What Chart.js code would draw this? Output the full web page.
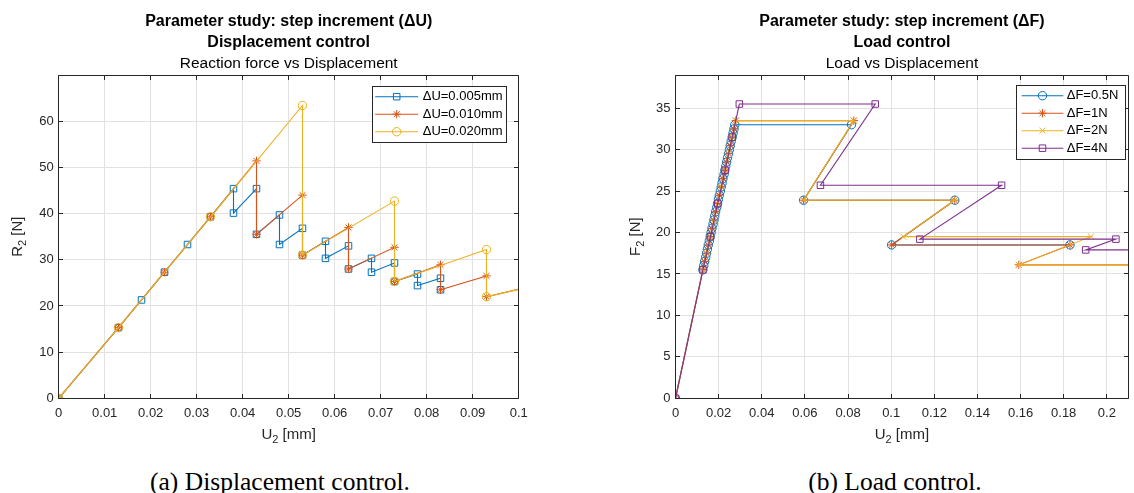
<!DOCTYPE html>
<html><head><meta charset="utf-8">
<script src="https://cdn.jsdelivr.net/npm/chart.js@4/dist/chart.umd.min.js"></script>
<style>
html,body{margin:0;padding:0;background:#fff;width:1134px;height:493px;overflow:hidden;}
.wrap{position:absolute;top:0;width:567px;height:460px;}
.cap{position:absolute;top:466px;font-family:"Liberation Serif","Times New Roman",serif;font-size:25.5px;line-height:32px;color:#000;text-align:center;white-space:nowrap;}
</style></head><body>
<div class="wrap" style="left:0"><canvas id="c1" width="567" height="460"></canvas></div>
<div class="wrap" style="left:567px"><canvas id="c2" width="567" height="460"></canvas></div>
<div class="cap" style="left:80px;width:400px">(a) Displacement control.</div>
<div class="cap" style="left:695px;width:400px">(b) Load control.</div>
<script>
// ---------- Left chart data: displacement control ----------
const uTicksL = [0,0.01,0.02,0.03,0.04,0.05,0.06,0.07,0.08,0.09,0.1];
const uTickLabelsL = ['0','0.01','0.02','0.03','0.04','0.05','0.06','0.07','0.08','0.09','0.1'];
const rTicksL = [0,10,20,30,40,50,60];
const rTickLabelsL = ['0','10','20','30','40','50','60'];
const seriesLabelsL = ['\u0394U=0.005mm','\u0394U=0.010mm','\u0394U=0.020mm'];

const u005 = [0,0.013,0.018,0.023,0.028,0.033,0.038,0.038,0.043,0.043,0.048,0.048,0.053,0.053,0.058,0.058,0.063,0.063,0.068,0.068,0.073,0.073,0.078,0.078,0.083,0.083];
const r005 = [0,15.3,21.3,27.3,33.3,39.3,45.4,40.1,45.4,35.5,39.7,33.3,36.8,31.0,34.0,30.3,33.0,28.0,30.3,27.3,29.3,25.3,26.9,24.4,26.0,23.5];
const u010 = [0,0.013,0.023,0.033,0.043,0.043,0.053,0.053,0.063,0.063,0.073,0.073,0.083,0.083,0.093,0.093,0.103];
const r010 = [0,15.3,27.3,39.3,51.4,35.5,44.0,31.0,37.0,28.0,32.7,25.3,28.9,23.5,26.5,22.0,24.3];
const u020 = [0,0.013,0.033,0.053,0.053,0.073,0.073,0.093,0.093,0.113];
const r020 = [0,15.3,39.3,63.4,31.0,42.7,25.3,32.2,22.0,26.5];

// ---------- Right chart data: load control ----------
const uTicksR = [0,0.02,0.04,0.06,0.08,0.1,0.12,0.14,0.16,0.18,0.2];
const uTickLabelsR = ['0','0.02','0.04','0.06','0.08','0.1','0.12','0.14','0.16','0.18','0.2'];
const fTicksR = [0,5,10,15,20,25,30,35];
const fTickLabelsR = ['0','5','10','15','20','25','30','35'];
const seriesLabelsR = ['\u0394F=0.5N','\u0394F=1N','\u0394F=2N','\u0394F=4N'];

const uF05 = [0,0.0127,0.0131,0.0135,0.0140,0.0144,0.0148,0.0152,0.0157,0.0161,0.0165,0.0169,0.0174,0.0178,0.0182,0.0186,0.0191,0.0195,0.0199,0.0203,0.0208,0.0212,0.0216,0.0220,0.0225,0.0229,0.0233,0.0237,0.0241,0.0246,0.0250,0.0254,0.0258,0.0263,0.0267,0.0271,0.0275,0.0816,0.0594,0.1295,0.1002,0.1829];
const fF05 = [0,15.5,16.0,16.5,17.0,17.5,18.0,18.5,19.0,19.5,20.0,20.5,21.0,21.5,22.0,22.5,23.0,23.5,24.0,24.5,25.0,25.5,26.0,26.5,27.0,27.5,28.0,28.5,29.0,29.5,30.0,30.5,31.0,31.5,32.0,32.5,33.0,33.0,23.9,23.9,18.5,18.5];
const uF1 = [0,0.0127,0.0135,0.0144,0.0152,0.0161,0.0169,0.0178,0.0186,0.0195,0.0203,0.0212,0.0220,0.0229,0.0237,0.0246,0.0254,0.0263,0.0271,0.0280,0.0827,0.0594,0.1295,0.1002,0.1829,0.1592,0.26];
const fF1 = [0,15.5,16.5,17.5,18.5,19.5,20.5,21.5,22.5,23.5,24.5,25.5,26.5,27.5,28.5,29.5,30.5,31.5,32.5,33.5,33.5,23.9,23.9,18.5,18.5,16.1,16.1];
const uF2 = [0,0.0127,0.0144,0.0161,0.0178,0.0195,0.0212,0.0229,0.0246,0.0263,0.0280,0.0827,0.0594,0.1295,0.1056,0.1926,0.1592,0.26];
const fF2 = [0,15.5,17.5,19.5,21.5,23.5,25.5,27.5,29.5,31.5,33.5,33.5,23.9,23.9,19.5,19.5,16.1,16.1];
const uF4 = [0,0.0127,0.0162,0.0196,0.0230,0.0263,0.0296,0.0926,0.0672,0.1512,0.1133,0.2042,0.1902,0.26];
const fF4 = [0,15.5,19.5,23.5,27.5,31.5,35.5,35.5,25.7,25.7,19.2,19.2,17.9,17.9];

// ---------- styling ----------
const FONT = '"Liberation Sans", Arial, Helvetica, sans-serif';
const AX = '#262626';
const GRID = '#e2e2e2';
const C_BLUE = '#0072BD', C_ORANGE = '#D95319', C_YELLOW = '#EDB120', C_PURPLE = '#7E2F8E';

const pts = (xs, ys) => xs.map((x, i) => ({x: x, y: ys[i]}));
const ds = (label, xs, ys, color, style, radius, idx) => ({
  label, data: pts(xs, ys), showLine: true, borderColor: color, borderWidth: 1.1,
  pointStyle: style, pointRadius: radius, pointBorderColor: color, pointBorderWidth: 1,
  pointBackgroundColor: 'rgba(0,0,0,0)', fill: false, tension: 0, order: -idx
});

function alignPx(p) { return Math.round(p - 0.5) + 0.5; }

const matPlugin = {
  id: 'mat',
  afterDatasetsDraw(chart, args, o) {
    const {ctx, chartArea: a, scales} = chart;
    ctx.save();
    ctx.strokeStyle = AX; ctx.lineWidth = 1;
    const L = alignPx(a.left), R = alignPx(a.right), T = alignPx(a.top), B = alignPx(a.bottom);
    const tl = 4.5;
    ctx.beginPath();
    scales.x.ticks.forEach(t => {
      const px = alignPx(scales.x.getPixelForValue(t.value));
      ctx.moveTo(px, B); ctx.lineTo(px, B - tl);
      ctx.moveTo(px, T); ctx.lineTo(px, T + tl);
    });
    scales.y.ticks.forEach(t => {
      const py = alignPx(scales.y.getPixelForValue(t.value));
      ctx.moveTo(L, py); ctx.lineTo(L + tl, py);
      ctx.moveTo(R, py); ctx.lineTo(R - tl, py);
    });
    ctx.rect(L, T, R - L, B - T);
    ctx.stroke();
    ctx.restore();
  },
  afterDraw(chart, args, o) {
    const {ctx, chartArea: a} = chart;
    const cx = (a.left + a.right) / 2;
    ctx.save();
    ctx.fillStyle = '#000';
    ctx.textAlign = 'center'; ctx.textBaseline = 'middle';
    ctx.font = 'bold 16px ' + FONT;
    ctx.fillText(o.title1, cx, 21.7);
    ctx.fillText(o.title2, cx, 42.3);
    ctx.font = '15.5px ' + FONT;
    ctx.fillText(o.title3, cx, 63.3);

    // axis label with subscript
    const drawSub = (main, sub, rest, x, y) => {
      ctx.textAlign = 'left'; ctx.textBaseline = 'middle';
      ctx.font = '15px ' + FONT; const w1 = ctx.measureText(main).width;
      ctx.font = '11px ' + FONT; const w2 = ctx.measureText(sub).width;
      ctx.font = '15px ' + FONT; const w3 = ctx.measureText(rest).width;
      let sx = x - (w1 + w2 + w3) / 2;
      ctx.fillStyle = AX;
      ctx.fillText(main, sx, y); sx += w1;
      ctx.font = '11px ' + FONT; ctx.fillText(sub, sx, y + 5); sx += w2;
      ctx.font = '15px ' + FONT; ctx.fillText(rest, sx, y);
    };
    drawSub(o.xl[0], o.xl[1], o.xl[2], cx, 435);
    ctx.save();
    ctx.translate(o.ylX, (a.top + a.bottom) / 2);
    ctx.rotate(-Math.PI / 2);
    drawSub(o.yl[0], o.yl[1], o.yl[2], 0, 0);
    ctx.restore();

    // legend
    const lg = o.legend;
    ctx.fillStyle = '#fff';
    ctx.fillRect(lg.x, lg.y, lg.w, lg.h);
    ctx.strokeStyle = AX; ctx.lineWidth = 1;
    ctx.strokeRect(alignPx(lg.x), alignPx(lg.y), Math.round(lg.w), Math.round(lg.h));
    chart.data.datasets.forEach((d, i) => {
      const y = lg.y + lg.r0 + i * lg.dy;
      ctx.strokeStyle = d.borderColor; ctx.lineWidth = 1.1;
      ctx.beginPath(); ctx.moveTo(lg.x + lg.l0, y); ctx.lineTo(lg.x + lg.l1, y); ctx.stroke();
      ctx.lineWidth = 1;
      ctx.fillStyle = 'rgba(0,0,0,0)';
      ctx.strokeStyle = d.pointBorderColor;
      Chart.helpers.drawPoint(ctx, {pointStyle: d.pointStyle, rotation: 0, radius: d.pointRadius, borderWidth: 1}, lg.x + lg.mk, y);
      ctx.fillStyle = '#000';
      ctx.font = '13px ' + FONT; ctx.textAlign = 'left'; ctx.textBaseline = 'middle';
      ctx.fillText(d.label, lg.x + lg.tx, y);
    });
    ctx.restore();
  }
};

function makeChart(id, datasets, cfg) {
  return new Chart(document.getElementById(id), {
    type: 'scatter',
    data: {datasets},
    plugins: [matPlugin],
    options: {
      responsive: false, animation: false, events: [],
      devicePixelRatio: 1,
      layout: {padding: {top: 75, left: 0, right: cfg.padRight, bottom: 0}},
      plugins: {legend: {display: false}, tooltip: {enabled: false}, title: {display: false}, mat: cfg.mat},
      scales: {
        x: {
          type: 'linear', min: cfg.xmin, max: cfg.xmax,
          grid: {color: GRID, lineWidth: 1, drawTicks: false},
          border: {display: false},
          ticks: {color: AX, font: {size: 13, family: FONT}, padding: 7, maxRotation: 0, autoSkip: false,
                  callback: (v, i) => cfg.xLabels[i]},
          afterBuildTicks: s => { s.ticks = cfg.xTicks.map(v => ({value: v})); },
          afterFit: s => { s.height = 460 - 398.3; }
        },
        y: {
          type: 'linear', min: cfg.ymin, max: cfg.ymax,
          grid: {color: GRID, lineWidth: 1, drawTicks: false},
          border: {display: false},
          ticks: {color: AX, font: {size: 13, family: FONT}, padding: 5, autoSkip: false,
                  callback: (v, i) => cfg.yLabels[i]},
          afterBuildTicks: s => { s.ticks = cfg.yTicks.map(v => ({value: v})); },
          afterFit: s => { s.width = cfg.yw; }
        }
      }
    }
  });
}

makeChart('c1', [
  ds(seriesLabelsL[0], u005, r005, C_BLUE, 'rect', 4.6, 0),
  ds(seriesLabelsL[1], u010, r010, C_ORANGE, 'star', 4.2, 1),
  ds(seriesLabelsL[2], u020, r020, C_YELLOW, 'circle', 4.2, 2)
], {
  xmin: 0, xmax: 0.1, ymin: 0, ymax: 70, xTicks: uTicksL, xLabels: uTickLabelsL, yTicks: rTicksL, yLabels: rTickLabelsL,
  yw: 58.7, padRight: 567 - 518.7,
  mat: {title1: 'Parameter study: step increment (\u0394U)', title2: 'Displacement control', title3: 'Reaction force vs Displacement',
        xl: ['U', '2', ' [mm]'], yl: ['R', '2', ' [N]'], ylX: 18,
        legend: {x: 372.7, y: 86, w: 134, h: 56.3, r0: 10.7, dy: 17.5, l0: 2.5, l1: 45.5, mk: 24, tx: 50}}
});

makeChart('c2', [
  ds(seriesLabelsR[0], uF05, fF05, C_BLUE, 'circle', 4.2, 0),
  ds(seriesLabelsR[1], uF1, fF1, C_ORANGE, 'star', 4.2, 1),
  ds(seriesLabelsR[2], uF2, fF2, C_YELLOW, 'crossRot', 4.2, 2),
  ds(seriesLabelsR[3], uF4, fF4, C_PURPLE, 'rect', 4.6, 3)
], {
  xmin: 0, xmax: 0.21, ymin: 0, ymax: 39, xTicks: uTicksR, xLabels: uTickLabelsR, yTicks: fTicksR, yLabels: fTickLabelsR,
  yw: 108.5, padRight: 0.5,
  mat: {title1: 'Parameter study: step increment (\u0394F)', title2: 'Load control', title3: 'Load vs Displacement',
        xl: ['U', '2', ' [mm]'], yl: ['F', '2', ' [N]'], ylX: 69,
        legend: {x: 449.7, y: 85, w: 109, h: 74, r0: 10.7, dy: 17.5, l0: 5, l1: 46.6, mk: 25.8, tx: 50}}
});
</script>
</body></html>
